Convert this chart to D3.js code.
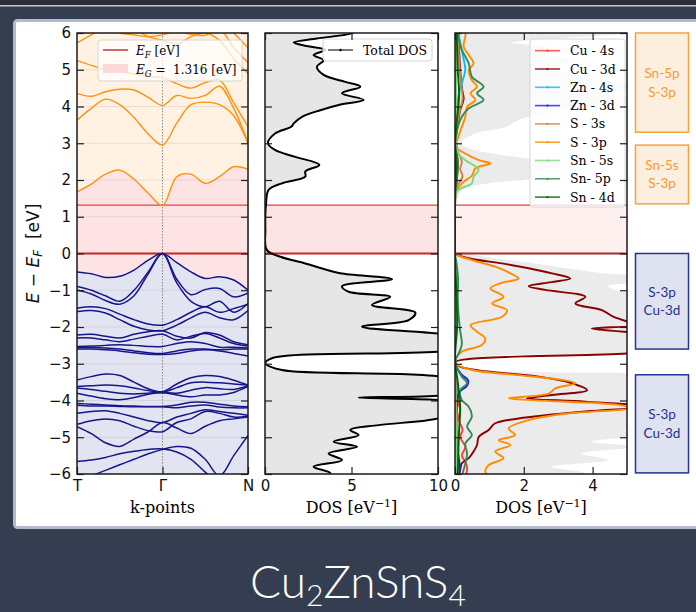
<!DOCTYPE html>
<html>
<head>
<meta charset="utf-8">
<script src="https://cdn.jsdelivr.net/npm/d3@7"></script>
<style>
body { margin: 0; background: #343e50; }
svg { display: block; }
</style>
</head>
<body>
<div id="chart"></div>
<script>
// ---- data ----
var gapEnergy = 1.316;

// k-path positions (T -> Gamma -> N)
var kPts = [0, 0.167, 0.333, 0.5, 0.667, 0.833, 1, 1.167, 1.333, 1.5, 1.667, 1.833, 2];
var kTickPos = [0, 1, 2];
var kTickLabels = ["T", "Γ", "N"];

// conduction bands, energy (eV) at each k-point
var conductionBands = [
  [1.68, 1.89, 2.16, 2.27, 2.02, 1.64, 1.31, 2.09, 2.16, 1.91, 2.09, 2.36, 2.29],
  [3.63, 3.95, 4.2, 4.05, 3.7, 3.25, 2.95, 3.55, 4.05, 4.12, 4.05, 3.75, 3.0],
  [4.35, 4.28, 4.4, 4.47, 4.45, 4.25, 4.03, 4.3, 4.22, 4.3, 4.55, 3.95, 3.02],
  [5.25, 5.12, 5.0, 4.95, 4.88, 4.82, 4.78, 4.62, 4.5, 4.65, 4.72, 4.1, 3.45],
  [5.73, 5.95, 6.15, 6.2, 6.1, 5.9, 5.8, 5.7, 5.9, 6.0, 5.8, 5.3, 4.9],
  [6.3, 6.2, 6.1, 6.0, 5.95, 5.9, 5.95, 6.05, 5.96, 5.94, 6.1, 5.6, 5.2],
  [6.6, 6.5, 6.4, 6.3, 6.2, 6.15, 6.2, 6.3, 6.2, 6.3, 6.4, 6.0, 5.6]
];

// valence bands, energy (eV) at each k-point
var valenceBands = [
  [-0.5, -0.55, -0.65, -0.62, -0.45, -0.18, 0, -0.25, -0.5, -0.68, -0.63, -0.72, -1.0],
  [-0.9, -1.0, -1.15, -1.3, -1.0, -0.5, 0, -0.7, -1.12, -0.98, -0.95, -1.18, -1.08],
  [-0.99, -1.1, -1.28, -1.38, -1.15, -0.55, 0, -0.8, -1.3, -1.45, -1.3, -1.6, -1.36],
  [-1.49, -1.45, -1.5, -1.65, -1.8, -1.92, -1.95, -1.8, -1.6, -1.45, -1.6, -1.5, -1.38],
  [-1.58, -1.55, -1.62, -1.8, -1.98, -2.08, -2.1, -1.95, -1.75, -1.6, -1.75, -1.8, -1.55],
  [-2.22, -2.2, -2.25, -2.3, -2.2, -2.13, -2.1, -2.25, -2.3, -2.15, -2.22, -2.4, -2.48],
  [-2.3, -2.3, -2.35, -2.4, -2.33, -2.25, -2.2, -2.35, -2.25, -2.18, -2.3, -2.45, -2.52],
  [-2.53, -2.52, -2.5, -2.48, -2.5, -2.53, -2.53, -2.45, -2.4, -2.45, -2.55, -2.55, -2.57],
  [-2.56, -2.56, -2.57, -2.6, -2.65, -2.7, -2.72, -2.65, -2.6, -2.6, -2.62, -2.6, -2.6],
  [-2.6, -2.6, -2.62, -2.65, -2.7, -2.74, -2.75, -2.72, -2.65, -2.62, -2.65, -2.72, -2.79],
  [-3.44, -3.35, -3.28, -3.32, -3.5, -3.68, -3.76, -3.55, -3.38, -3.32, -3.35, -3.45, -3.58],
  [-3.62, -3.6, -3.58, -3.6, -3.66, -3.73, -3.77, -3.65, -3.52, -3.5, -3.52, -3.55, -3.58],
  [-3.66, -3.7, -3.75, -3.8, -3.82, -3.8, -3.78, -3.8, -3.72, -3.65, -3.68, -3.7, -3.6],
  [-3.8, -3.88, -3.95, -3.98, -3.92, -3.83, -3.79, -3.85, -3.9, -3.85, -3.85, -3.78, -3.62],
  [-4.08, -4.1, -4.12, -4.14, -4.15, -4.16, -4.16, -4.12, -4.05, -4.05, -4.1, -4.15, -4.17],
  [-4.13, -4.15, -4.15, -4.16, -4.17, -4.17, -4.17, -4.2, -4.15, -4.12, -4.18, -4.2, -4.2],
  [-4.35, -4.3, -4.28, -4.35, -4.45, -4.55, -4.6, -4.45, -4.35, -4.25, -4.3, -4.35, -4.4],
  [-4.65, -4.55, -4.5, -4.55, -4.7, -4.82, -4.85, -4.6, -4.5, -4.3, -4.35, -4.45, -4.42],
  [-4.71, -4.9, -5.15, -5.25, -5.05, -4.85, -4.6, -4.75, -4.9, -4.7, -4.55, -4.5, -4.45],
  [-5.66, -5.62, -5.55, -5.45, -5.38, -5.33, -5.32, -5.4, -5.6, -5.95, -6.3, -6.6, -6.8],
  [-6.2, -6.05, -5.9, -5.75, -5.6, -5.45, -5.33, -5.25, -5.3, -5.6, -6.05, -5.5, -4.95],
  [-6.6, -6.5, -6.4, -6.3, -6.2, -6.1, -6.05, -6.15, -6.3, -6.5, -6.6, -6.4, -6.2]
];

// total DOS: [energy, DOS]
var totalDOS = [
  [6.1, 5.4], [5.99, 5.0], [5.85, 3.0], [5.74, 1.66], [5.64, 2.5], [5.54, 3.49], [5.4, 2.81],
  [5.26, 3.39], [5.08, 3.0], [4.86, 3.39], [4.67, 4.64], [4.54, 5.51], [4.36, 4.45], [4.18, 5.7],
  [4.04, 4.26], [3.9, 3.2], [3.72, 2.14], [3.54, 1.66], [3.45, 1.52], [3.27, 0.6], [3.0, 0.17],
  [2.81, 0.6], [2.63, 1.75], [2.41, 3.14], [2.23, 2.33], [2.09, 2.33], [1.91, 0.98], [1.73, 0.21],
  [1.36, 0.06], [0.64, 0.02], [0.1, 0.1], [-0.09, 0.89], [-0.27, 2.33], [-0.41, 3.3], [-0.54, 4.35],
  [-0.7, 7.34], [-0.89, 4.45], [-1.04, 4.84], [-1.18, 7.24], [-1.4, 6.18], [-1.61, 8.69],
  [-1.81, 8.3], [-1.99, 5.61], [-2.22, 11], [-2.45, 14], [-2.67, 10.1], [-2.85, 0.4], [-2.99, 0.02],
  [-3.17, 0.98], [-3.44, 11], [-3.7, 11.5], [-3.84, 10.6], [-3.92, 5.4], [-3.99, 10.2], [-4.1, 12],
  [-4.3, 11], [-4.49, 10], [-4.67, 6.57], [-4.8, 4.93], [-4.94, 5.41], [-5.12, 3.97], [-5.26, 5.32],
  [-5.44, 3.68], [-5.62, 4.45], [-5.8, 2.81], [-5.98, 3.78], [-6.1, 3.4]
];

// projected DOS: [energy, DOS]
var cu4s = [[6, 0.03], [1, 0], [-3, 0], [-3.5, 0.05], [-4.0, 0.08], [-4.26, 0.15], [-4.5, 0.1], [-4.8, 0.22],
  [-5.0, 0.15], [-5.26, 0.3], [-5.5, 0.2], [-5.7, 0.32], [-5.89, 0.35], [-6.05, 0.3]];
var cu3d = [[6.05, 0.1], [5.5, 0.12], [5.0, 0.15], [4.5, 0.2], [4.2, 0.25], [3.9, 0.15], [3.5, 0.08],
  [3.0, 0.02], [2.5, 0.08], [2.0, 0.05], [1.6, 0.01], [1.2, 0], [0.2, 0], [0, 0.02], [-0.13, 0.4],
  [-0.27, 1.37], [-0.4, 2.14], [-0.54, 2.82], [-0.68, 3.35], [-0.78, 2.8], [-0.89, 2.14], [-0.99, 2.63],
  [-1.18, 3.79], [-1.36, 3.5], [-1.54, 4.27], [-1.72, 4.6], [-1.85, 5.0], [-1.95, 5.3], [-2.04, 3.98],
  [-2.17, 5.3], [-2.4, 6.5], [-2.6, 6.0], [-2.72, 5.0], [-2.8, 2.0], [-2.87, 0.4], [-2.95, 0.02],
  [-3.04, 0.06], [-3.17, 0.59], [-3.35, 2.43], [-3.53, 3.4], [-3.72, 3.84], [-3.85, 2.82], [-3.94, 2.09],
  [-4.03, 3.79], [-4.17, 5.6], [-4.3, 3.79], [-4.49, 1.85], [-4.62, 1.17], [-4.8, 0.98], [-4.99, 0.69],
  [-5.21, 0.64], [-5.39, 0.54], [-5.57, 0.4], [-5.71, 0.2], [-5.89, 0.15], [-6.05, 0.12]];
var zn4s = [[6.05, 0.08], [5.6, 0.18], [5.3, 0.25], [5.0, 0.3], [4.7, 0.22], [4.3, 0.1], [3.5, 0.03],
  [3, 0], [0, 0], [-3, 0], [-4, 0.03], [-5, 0.05], [-6.05, 0.08]];
var zn3d = [[6.05, 0.01], [0, 0], [-2.9, 0], [-3.1, 0.05], [-3.3, 0.2], [-3.45, 0.38], [-3.6, 0.35],
  [-3.75, 0.15], [-3.9, 0.08], [-4.3, 0.05], [-5.0, 0.04], [-5.5, 0.1], [-5.8, 0.14], [-6.05, 0.1]];
var s3s = [[6.05, 0.1], [5.2, 0.12], [4.6, 0.18], [4.2, 0.22], [3.8, 0.12], [3.2, 0.03], [2.8, 0.08],
  [2.5, 0.2], [2.3, 0.15], [2.1, 0.22], [1.8, 0.05], [1.5, 0], [0, 0], [-3, 0], [-4.5, 0.04], [-6.05, 0.06]];
var s3p = [[6.05, 0.3], [5.9, 0.3], [5.63, 0.25], [5.4, 0.4], [5.17, 0.54], [4.99, 0.4], [4.72, 0.49],
  [4.54, 0.64], [4.36, 0.45], [4.18, 0.59], [3.99, 0.35], [3.72, 0.3], [3.45, 0.2], [3.18, 0.1],
  [2.91, 0.02], [2.72, 0.3], [2.54, 0.69], [2.45, 1.03], [2.32, 0.59], [2.13, 0.5], [1.95, 0.25],
  [1.73, 0.06], [1.45, 0], [0.2, 0], [0, 0.02], [-0.18, 0.5], [-0.36, 1.17], [-0.54, 1.61], [-0.68, 1.85],
  [-0.81, 1.32], [-0.95, 1.03], [-1.18, 1.41], [-1.36, 1.08], [-1.54, 1.51], [-1.72, 1.37], [-1.95, 0.45],
  [-2.13, 0.64], [-2.31, 0.88], [-2.49, 0.78], [-2.67, 0.2], [-2.85, 0.03], [-2.99, 0.01], [-3.17, 0.5],
  [-3.31, 1.85], [-3.44, 3.11], [-3.53, 3.5], [-3.67, 2.92], [-3.81, 2.72], [-3.94, 1.56], [-3.99, 2.24],
  [-4.12, 4.76], [-4.21, 5.1], [-4.35, 3.3], [-4.53, 2.14], [-4.76, 1.56], [-4.94, 1.75], [-5.08, 1.27],
  [-5.21, 1.61], [-5.39, 1.17], [-5.57, 1.41], [-5.76, 0.98], [-5.94, 0.88], [-6.05, 1.0]];
var sn5s = [[6.05, 0.03], [4, 0.03], [3, 0.02], [2.72, 0.1], [2.54, 0.3], [2.4, 0.55], [2.27, 0.69],
  [2.09, 0.54], [1.91, 0.49], [1.73, 0.1], [1.55, 0], [0, 0], [-3, 0], [-5, 0.03], [-6.05, 0.05]];
var sn5p = [[6.05, 0.1], [5.9, 0.1], [5.54, 0.2], [5.17, 0.4], [4.81, 0.49], [4.54, 0.83], [4.36, 0.64],
  [4.18, 0.83], [3.95, 0.4], [3.72, 0.2], [3.36, 0.06], [3.0, 0.01], [2.6, 0.06], [2.3, 0.08], [2.0, 0.05],
  [1.6, 0.01], [1.3, 0], [0, 0], [-0.3, 0.05], [-0.71, 0.09], [-1.2, 0.08], [-1.63, 0.1], [-2.1, 0.15],
  [-2.45, 0.2], [-2.63, 0.15], [-2.9, 0.02], [-3.1, 0.05], [-3.35, 0.2], [-3.53, 0.35], [-3.72, 0.15],
  [-3.99, 0.2], [-4.17, 0.4], [-4.44, 0.49], [-4.71, 0.35], [-4.94, 0.49], [-5.17, 0.3], [-5.44, 0.35],
  [-5.71, 0.3], [-6.05, 0.2]];
var sn4d = [[6.05, 0.05], [5, 0.08], [4.3, 0.12], [3.5, 0.04], [3, 0], [2.4, 0.05], [1.6, 0], [0, 0],
  [-1, 0.04], [-2, 0.06], [-2.9, 0], [-3.5, 0.08], [-4.2, 0.15], [-4.8, 0.12], [-5.3, 0.1], [-6.05, 0.08]];

var pdosNames = ["Cu - 4s", "Cu - 3d", "Zn - 4s", "Zn - 3d", "S - 3s", "S - 3p", "Sn - 5s", "Sn- 5p", "Sn - 4d"];
var pdosSeries = [cu4s, cu3d, zn4s, zn3d, s3s, s3p, sn5s, sn5p, sn4d];
var pdosColors = ["#ff3b3b", "#8b0000", "#00bfff", "#1a1aff", "#cd853f", "#ff8c00", "#7fd67f", "#2e8b57", "#006400"];

var boxLabels = [["Sn-5p", "S-3p"], ["Sn-5s", "S-3p"], ["S-3p", "Cu-3d"], ["S-3p", "Cu-3d"]];
var boxRanges = [[6.0, 3.3], [2.95, 1.35], [0.0, -2.6], [-3.3, -5.97]];

// ---- setup ----
var svgWidth = 696, svgHeight = 612;
var svg = d3.select("#chart").append("svg")
  .attr("width", svgWidth)
  .attr("height", svgHeight);

svg.append("rect").attr("width", svgWidth).attr("height", svgHeight).attr("fill", "#343e50");
svg.append("rect").attr("width", svgWidth).attr("height", 5).attr("fill", "#2b2e34");
svg.append("rect").attr("y", 5).attr("width", svgWidth).attr("height", 1.5).attr("fill", "#c3c8d1");
svg.append("rect")
  .attr("x", 14.5).attr("y", 20.5).attr("width", 700).attr("height", 507).attr("rx", 3)
  .attr("fill", "#fff").attr("stroke", "#b2bccb").attr("stroke-width", 3);

var yTop = 33, yBottom = 474;
var yScale = d3.scaleLinear().domain([-6, 6]).range([yBottom, yTop]);
var kScale = d3.scaleLinear().domain([0, 2]).range([77, 248]);
var dosScale = d3.scaleLinear().domain([0, 10]).range([265, 438]);
var pdosScale = d3.scaleLinear().domain([0, 5]).range([455, 627]);

var curve = d3.curveCatmullRom.alpha(0.5);
var defs = svg.append("defs");

function makePanel(id, xScale) {
  var r = xScale.range();
  defs.append("clipPath").attr("id", id)
    .append("rect").attr("x", r[0]).attr("y", yTop).attr("width", r[1] - r[0]).attr("height", yBottom - yTop);
  return svg.append("g").attr("clip-path", "url(#" + id + ")");
}

function gapLines(g, xScale, fill, fermiColor) {
  var r = xScale.range();
  g.append("rect").attr("x", r[0]).attr("width", r[1] - r[0])
    .attr("y", yScale(gapEnergy)).attr("height", yScale(0) - yScale(gapEnergy)).attr("fill", fill);
  g.append("line").attr("x1", r[0]).attr("x2", r[1])
    .attr("y1", yScale(gapEnergy)).attr("y2", yScale(gapEnergy))
    .attr("stroke", "#e8413c").attr("stroke-width", 1.2);
  g.append("line").attr("x1", r[0]).attr("x2", r[1])
    .attr("y1", yScale(0)).attr("y2", yScale(0))
    .attr("stroke", fermiColor).attr("stroke-width", 2.2);
}

function frameAndTicks(xScale, xTicks, xLabels, topTicks) {
  var r = xScale.range();
  var g = svg.append("g").attr("class", "axes");
  var yl = g.append("g").attr("transform", "translate(" + r[0] + ",0)")
    .call(d3.axisLeft(yScale).ticks(12).tickSizeInner(-7).tickSizeOuter(0).tickPadding(6));
  g.append("g").attr("transform", "translate(" + r[1] + ",0)")
    .call(d3.axisRight(yScale).ticks(12).tickSizeInner(-7).tickSizeOuter(0).tickFormat(""));
  g.append("g").attr("transform", "translate(0," + yBottom + ")")
    .call(d3.axisBottom(xScale).tickValues(xTicks).tickSizeInner(-7).tickSizeOuter(0).tickPadding(6)
      .tickFormat(function(d, i) { return xLabels[i]; }));
  if (topTicks) {
    g.append("g").attr("transform", "translate(0," + yTop + ")")
      .call(d3.axisTop(xScale).tickValues(xTicks).tickSizeInner(-7).tickSizeOuter(0).tickFormat(""));
  }
  g.selectAll(".domain").remove();
  g.selectAll(".tick line").attr("stroke", "#222").attr("stroke-width", 1.2);
  g.selectAll(".tick text").attr("font-family", "DejaVu Sans").attr("font-size", 15).attr("fill", "#111");
  g.append("rect").attr("x", r[0]).attr("y", yTop).attr("width", r[1] - r[0]).attr("height", yBottom - yTop)
    .attr("fill", "none").attr("stroke", "#1a1a1a").attr("stroke-width", 1.5);
  return yl;
}

// ---- band structure panel ----
var bandG = makePanel("clipBand", kScale);
var vbTop = kPts.map(function(k, i) { return d3.max(valenceBands, function(b) { return b[i]; }); });
var cbBottom = kPts.map(function(k, i) { return d3.min(conductionBands, function(b) { return b[i]; }); });

bandG.append("rect").attr("x", 77).attr("y", yTop).attr("width", 171).attr("height", yBottom - yTop)
  .attr("fill", "#fde3e3");
bandG.append("path").datum(vbTop)
  .attr("d", d3.area().x(function(d, i) { return kScale(kPts[i]); })
    .y0(yScale(-6.5)).y1(function(d) { return yScale(d); }).curve(curve))
  .attr("fill", "#e3e4f2");
bandG.append("path").datum(cbBottom)
  .attr("d", d3.area().x(function(d, i) { return kScale(kPts[i]); })
    .y0(yScale(6.5)).y1(function(d) { return yScale(d); }).curve(curve))
  .attr("fill", "#fff2e3");

// faint grid
bandG.selectAll(".grid").data(d3.range(-5, 6)).enter().append("line")
  .attr("x1", 77).attr("x2", 248)
  .attr("y1", function(d) { return yScale(d); }).attr("y2", function(d) { return yScale(d); })
  .attr("stroke", "#b0b0b0").attr("stroke-opacity", 0.3).attr("stroke-width", 1);
bandG.append("line").attr("x1", kScale(1)).attr("x2", kScale(1)).attr("y1", yTop).attr("y2", yBottom)
  .attr("stroke", "#888").attr("stroke-width", 1).attr("stroke-dasharray", "1.5,1.5");

gapLines(bandG, kScale, "none", "#c9262c");

var bandLine = d3.line()
  .x(function(d, i) { return kScale(kPts[i]); })
  .y(function(d) { return yScale(d); })
  .curve(curve);

bandG.selectAll(".vb").data(valenceBands).enter().append("path")
  .attr("d", bandLine).attr("fill", "none").attr("stroke", "#16168a").attr("stroke-width", 1.5);
bandG.selectAll(".cb").data(conductionBands).enter().append("path")
  .attr("d", bandLine).attr("fill", "none").attr("stroke", "#ff9010").attr("stroke-width", 1.4);

// band legend
var leg1 = svg.append("g");
leg1.append("rect").attr("x", 98).attr("y", 40).attr("width", 144).attr("height", 41).attr("rx", 3)
  .attr("fill", "#fff").attr("fill-opacity", 0.75).attr("stroke", "#d6d6d6");
leg1.append("line").attr("x1", 103).attr("x2", 128).attr("y1", 50).attr("y2", 50)
  .attr("stroke", "#b81c1c").attr("stroke-width", 1.3);
leg1.append("rect").attr("x", 103).attr("y", 64).attr("width", 25).attr("height", 9).attr("fill", "#fcdada");
var t1 = leg1.append("text").attr("x", 136).attr("y", 55).attr("font-family", "DejaVu Serif").attr("font-size", 12);
t1.append("tspan").attr("font-style", "italic").text("E");
t1.append("tspan").attr("font-style", "italic").attr("font-size", 8.5).attr("dy", 2.5).text("F");
t1.append("tspan").attr("dy", -2.5).text(" [eV]");
var t2 = leg1.append("text").attr("x", 136).attr("y", 74).attr("font-family", "DejaVu Serif").attr("font-size", 12);
t2.append("tspan").attr("font-style", "italic").text("E");
t2.append("tspan").attr("font-style", "italic").attr("font-size", 8.5).attr("dy", 2.5).text("G");
t2.append("tspan").attr("dy", -2.5).text(" =\u00a0 " + gapEnergy + " [eV]");

frameAndTicks(kScale, kTickPos, kTickLabels, false);

// ---- total DOS panel ----
var dosG = makePanel("clipDos", dosScale);
dosG.append("path").datum(totalDOS)
  .attr("d", d3.area().y(function(d) { return yScale(d[0]); })
    .x0(dosScale(0)).x1(function(d) { return dosScale(d[1]); }).curve(curve))
  .attr("fill", "#e6e6e6");
gapLines(dosG, dosScale, "#fde4e4", "#c9262c");
dosG.append("path").datum(totalDOS)
  .attr("d", d3.line().y(function(d) { return yScale(d[0]); })
    .x(function(d) { return dosScale(d[1]); }).curve(curve))
  .attr("fill", "none").attr("stroke", "#000").attr("stroke-width", 2);

var leg2 = svg.append("g");
leg2.append("rect").attr("x", 323).attr("y", 39).attr("width", 109).attr("height", 22).attr("rx", 3)
  .attr("fill", "#fff").attr("fill-opacity", 0.8).attr("stroke", "#d6d6d6");
leg2.append("line").attr("x1", 328).attr("x2", 353).attr("y1", 50).attr("y2", 50)
  .attr("stroke", "#333").attr("stroke-width", 1.3);
leg2.append("circle").attr("cx", 340.5).attr("cy", 50).attr("r", 1.2).attr("fill", "#000");
leg2.append("text").attr("x", 363).attr("y", 54.5).attr("font-family", "DejaVu Serif").attr("font-size", 12.5)
  .text("Total DOS");

frameAndTicks(dosScale, [0, 5, 10], ["0", "5", "10"], true)
  .selectAll(".tick text").remove();

// ---- projected DOS panel ----
var pdosG = makePanel("clipPdos", pdosScale);
pdosG.append("path").datum(totalDOS)
  .attr("d", d3.area().y(function(d) { return yScale(d[0]); })
    .x0(pdosScale(0)).x1(function(d) { return pdosScale(d[1]); }).curve(curve))
  .attr("fill", "#ebebeb");
gapLines(pdosG, pdosScale, "#fdf0ee", "#a52a2a");

var pdosLine = d3.line()
  .y(function(d) { return yScale(d[0]); })
  .x(function(d) { return pdosScale(d[1]); })
  .curve(curve);
pdosG.selectAll(".pdos").data(pdosSeries).enter().append("path")
  .attr("d", pdosLine).attr("fill", "none")
  .attr("stroke", function(d, i) { return pdosColors[i]; })
  .attr("stroke-width", 1.9);

var leg3 = svg.append("g");
leg3.append("rect").attr("x", 530).attr("y", 39).attr("width", 95).attr("height", 168).attr("rx", 3)
  .attr("fill", "#fff").attr("fill-opacity", 0.8).attr("stroke", "#d6d6d6");
var legItems = leg3.selectAll(".item").data(pdosNames).enter().append("g")
  .attr("transform", function(d, i) { return "translate(0," + (50.7 + i * 18.3) + ")"; });
legItems.append("line").attr("x1", 535).attr("x2", 560)
  .attr("stroke", function(d, i) { return pdosColors[i]; }).attr("stroke-width", 1.6).attr("stroke-opacity", 0.8);
legItems.append("circle").attr("cx", 547.5).attr("r", 1.1).attr("fill", function(d, i) { return pdosColors[i]; });
legItems.append("text").attr("x", 570).attr("y", 4.5)
  .attr("font-family", "DejaVu Serif").attr("font-size", 12.5).text(function(d) { return d; });

frameAndTicks(pdosScale, [0, 2, 4], ["0", "2", "4"], true)
  .selectAll(".tick text").remove();

// ---- axis titles ----
var ylab = svg.append("text").attr("transform", "translate(39," + yScale(0) + ") rotate(-90)")
  .attr("text-anchor", "middle").attr("font-family", "DejaVu Sans").attr("font-size", 17).attr("fill", "#111");
ylab.append("tspan").attr("font-style", "italic").text("E");
ylab.append("tspan").text(" − ");
ylab.append("tspan").attr("font-style", "italic").text("E");
ylab.append("tspan").attr("font-style", "italic").attr("font-size", 12).attr("dy", 3).text("F");
ylab.append("tspan").attr("dy", -3).text("\u00a0 [eV]");

svg.append("text").attr("x", kScale(1)).attr("y", 513).attr("text-anchor", "middle")
  .attr("font-family", "DejaVu Serif").attr("font-size", 16).text("k-points");
[dosScale, pdosScale].forEach(function(sc) {
  var r = sc.range();
  var t = svg.append("text").attr("x", (r[0] + r[1]) / 2).attr("y", 513).attr("text-anchor", "middle")
    .attr("font-family", "DejaVu Serif").attr("font-size", 16);
  t.append("tspan").text("DOS [eV");
  t.append("tspan").attr("font-size", 11).attr("dy", -6).text("−1");
  t.append("tspan").attr("dy", 6).text("]");
});

// ---- orbital boxes ----
var boxes = svg.selectAll(".obox").data(boxRanges).enter().append("g");
boxes.append("rect")
  .attr("x", 635.5).attr("width", 53)
  .attr("y", function(d) { return yScale(d[0]); })
  .attr("height", function(d) { return yScale(d[1]) - yScale(d[0]); })
  .attr("fill", function(d, i) { return i < 2 ? "#fdefdf" : "#dfe2f1"; })
  .attr("stroke", function(d, i) { return i < 2 ? "#f7a33a" : "#2a3190"; })
  .attr("stroke-width", 1.5);
boxes.each(function(d, i) {
  var cy = (yScale(d[0]) + yScale(d[1])) / 2;
  var col = i < 2 ? "#f59a2c" : "#27308c";
  d3.select(this).selectAll("text").data(boxLabels[i]).enter().append("text")
    .attr("x", 662).attr("y", function(t, j) { return cy - 4.5 + j * 18.5; })
    .attr("text-anchor", "middle").attr("font-family", "Lato").attr("font-size", 13.5)
    .attr("fill", col).text(function(t) { return t; });
});

// ---- title ----
var title = svg.append("text").attr("x", 358).attr("y", 598).attr("text-anchor", "middle")
  .attr("font-family", "Lato").attr("font-weight", 300).attr("font-size", 46).attr("fill", "#fff");
title.append("tspan").text("Cu");
title.append("tspan").attr("font-size", 30).attr("dy", 8).text("2");
title.append("tspan").attr("dy", -8).text("ZnSnS");
title.append("tspan").attr("font-size", 30).attr("dy", 8).text("4");
</script>
</body>
</html>
